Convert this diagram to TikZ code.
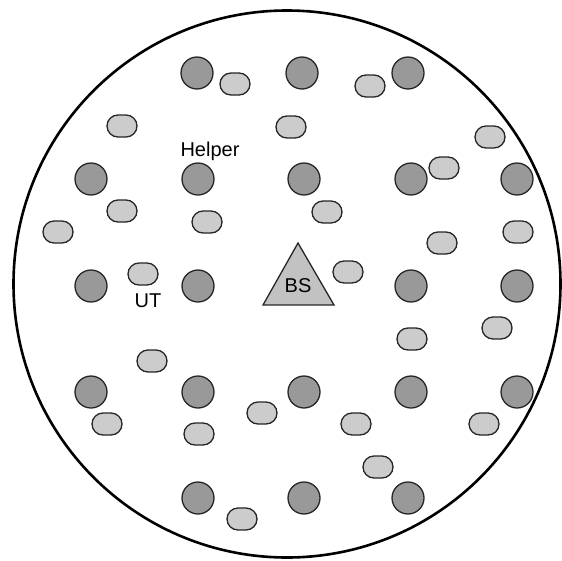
\documentclass[tikz,border=0pt]{standalone}
\usepackage{fontspec}
\setmainfont{Liberation Sans}
\usetikzlibrary{shapes.misc}
\definecolor{helperfill}{gray}{0.6}
\definecolor{utfill}{gray}{0.8}
\definecolor{bsfill}{gray}{0.76}
\tikzset{
  helper/.style={circle, draw=black!85, line width=1.3pt, fill=helperfill, minimum size=32pt, inner sep=0pt},
  ut/.style={rounded rectangle, draw=black!85, line width=1.3pt, fill=utfill, minimum width=30pt, minimum height=22pt, inner sep=0pt},
  lbl/.style={font=\fontsize{20}{22}\selectfont, inner sep=0pt},
}
\begin{document}
\begin{tikzpicture}[x=1pt,y=-1pt]
\useasboundingbox (0,0) rectangle (562,560);
\draw[line width=2.6pt] (287,284) circle (273.5);
% helpers
\foreach \n/\x/\y in {h1/197/73, h2/302/73, h3/408/73,
  h4/91/179, h5/198/179, h6/304/179, h7/411/179, h8/517/179,
  h9/91/286, h10/198/286, h11/411/286, h12/517/286,
  h13/91/392, h14/198/392, h15/304/392, h16/411/392, h17/517/392,
  h18/198/498, h19/304/498, h20/408/498}
  \node[helper] (\n) at (\x,\y) {};
% UTs
\foreach \n/\x/\y in {u1/235/84, u2/370/86, u3/122/126, u4/291/127, u5/490/137,
  u6/444/168, u7/122/211, u8/327/212, u9/207/222, u10/58/232, u11/518/232,
  u12/442/243, u13/143/274, u14/348/272, u15/412/339, u16/497/328,
  u17/152/361, u18/107/424, u19/199/434, u20/262/413, u21/356/424,
  u22/484/424, u23/378/467, u24/242/519}
  \node[ut] (\n) at (\x,\y) {};
% BS
\coordinate (bsA) at (298,243);
\coordinate (bsL) at (263,305);
\coordinate (bsR) at (334,305);
\draw[line width=1.3pt, draw=black!85, fill=bsfill, line join=miter] (bsA) -- (bsR) -- (bsL) -- cycle;
\node[lbl] (bs) at (298,286) {BS};
\node[lbl] (helperlbl) at (210,151) {Helper};
\node[lbl] (utlbl) at (148,301) {UT};
\end{tikzpicture}
\end{document}
